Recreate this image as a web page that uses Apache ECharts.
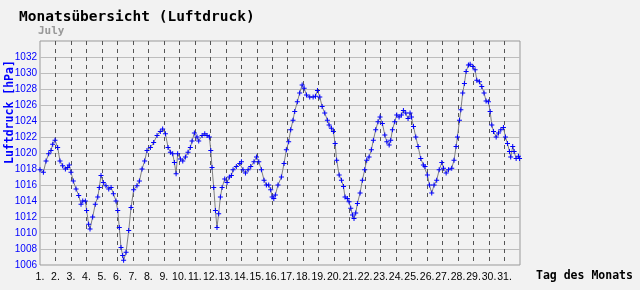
<!DOCTYPE html>
<html>
<head>
<meta charset="utf-8">
<script src="https://cdn.jsdelivr.net/npm/echarts@6/dist/echarts.min.js"></script>
<style>
html,body{margin:0;padding:0;background:#f2f2f2;}
#chart{width:640px;height:290px;}
</style>
</head>
<body>
<div id="chart"></div>
<script>
// Time of each reading, in days since 1 July 00:00
const dayOffsets = [
0.00,0.22,0.39,0.56,0.71,0.82,0.97,1.14,1.29,1.46,1.64,1.79,1.89,2.00,2.15,2.33,2.50,2.65,2.76,2.93,
3.01,3.14,3.23,3.40,3.57,3.73,3.83,3.94,4.09,4.26,4.44,4.59,4.74,4.91,5.02,5.12,5.23,5.34,5.40,5.56,
5.73,5.88,6.05,6.26,6.42,6.59,6.76,6.91,7.13,7.34,7.56,7.77,7.92,8.10,8.27,8.42,8.57,8.68,8.79,8.89,
9.07,9.22,9.39,9.56,9.71,9.82,9.97,10.14,10.25,10.47,10.64,10.79,10.94,11.03,11.11,11.22,11.33,11.43,11.54,11.65,
11.76,11.93,12.08,12.23,12.36,12.47,12.68,12.90,13.01,13.11,13.27,13.44,13.61,13.82,13.98,14.13,14.30,14.47,14.62,14.77,
14.90,14.99,15.10,15.20,15.37,15.59,15.76,15.91,16.06,16.19,16.34,16.45,16.62,16.77,16.93,17.06,17.21,17.42,17.64,17.79,
17.92,18.07,18.22,18.39,18.56,18.67,18.82,18.95,19.06,19.16,19.32,19.47,19.60,19.70,19.85,19.96,20.07,20.18,20.28,20.39,
20.50,20.67,20.82,20.97,21.10,21.25,21.40,21.53,21.68,21.83,21.96,22.11,22.27,22.40,22.55,22.65,22.76,22.91,23.04,23.19,
23.34,23.47,23.62,23.77,23.90,23.99,24.12,24.27,24.42,24.59,24.76,24.87,25.02,25.15,25.30,25.45,25.62,25.78,25.95,26.06,
26.23,26.38,26.59,26.74,26.87,26.96,27.09,27.18,27.30,27.41,27.52,27.67,27.78,27.95,28.10,28.21,28.38,28.53,28.68,28.81,
28.96,29.07,29.18,29.29,29.46,29.61,29.76,29.93,30.06,30.19,30.32,30.40,30.53,30.62,30.75,30.90,30.97
];
// Air pressure in hPa
const pressure = [
1017.9,1017.6,1019.0,1019.9,1020.3,1021.1,1021.6,1020.7,1019.0,1018.4,1018.0,1018.2,1018.5,1017.6,1016.5,1015.5,1014.7,1013.6,1014.0,1014.0,
1012.8,1011.1,1010.5,1012.0,1013.6,1014.5,1015.7,1017.2,1016.3,1015.9,1015.5,1015.7,1014.9,1014.0,1012.8,1010.7,1008.2,1007.2,1006.6,1007.6,
1010.3,1013.2,1015.4,1015.9,1016.5,1018.0,1019.0,1020.3,1020.7,1021.3,1022.2,1022.7,1023.0,1022.4,1020.7,1020.1,1019.9,1018.8,1017.4,1019.9,
1019.25,1019.0,1019.5,1020.1,1020.7,1021.5,1022.5,1022.0,1021.5,1022.2,1022.4,1022.2,1022.0,1020.3,1018.2,1015.7,1012.8,1010.7,1012.4,1014.5,
1015.7,1016.75,1016.3,1017.0,1017.2,1017.9,1018.3,1018.7,1018.9,1017.9,1017.5,1017.9,1018.3,1018.9,1019.5,1018.9,1017.9,1016.6,1016.0,1016.0,
1015.4,1014.5,1014.3,1014.75,1016.0,1017.0,1018.7,1020.4,1021.4,1022.9,1024.1,1025.2,1026.4,1027.5,1028.5,1028.1,1027.25,1027.0,1027.0,1027.1,
1027.8,1027.0,1025.8,1025.0,1024.1,1023.5,1023.1,1022.7,1021.2,1019.1,1017.25,1016.6,1015.8,1014.5,1014.3,1013.9,1013.1,1012.25,1011.8,1012.5,
1013.7,1015.0,1016.6,1017.9,1019.1,1019.5,1020.4,1021.6,1022.9,1023.9,1024.5,1023.7,1022.25,1021.4,1021.0,1021.6,1022.9,1023.9,1024.75,1024.5,
1024.75,1025.3,1025.0,1024.3,1025.0,1024.5,1023.3,1022.0,1020.8,1019.3,1018.5,1018.3,1017.25,1016.0,1015.0,1016.0,1016.6,1017.9,1018.8,1018.1,
1017.5,1017.9,1018.1,1019.1,1020.8,1022.0,1024.1,1025.4,1027.5,1028.7,1030.2,1031.0,1031.1,1030.8,1030.4,1029.1,1028.9,1028.3,1027.5,1026.5,
1026.4,1025.2,1023.5,1022.7,1022.0,1022.5,1022.9,1023.2,1022.0,1021.2,1020.2,1019.5,1020.8,1020.2,1019.3,1019.6,1019.3
];
// Tick labels of the day axis
const dayLabels = ['1.','2.','3.','4.','5.','6.','7.','8.','9.','10.','11.','12.','13.','14.','15.','16.',
'17.','18.','19.','20.','21.','22.','23.','24.','25.','26.','27.','28.','29.','30.','31.'];
// Tick labels of the pressure axis
const pressureTicks = [1006,1008,1010,1012,1014,1016,1018,1020,1022,1024,1026,1028,1030,1032];

const titleText = 'Monatsübersicht (Luftdruck)';
const monthText = 'July';
const yName = 'Luftdruck [hPa]';
const xName = 'Tag des Monats';

const seriesData = dayOffsets.map((d, i) => [d, pressure[i]]);

const chart = echarts.init(document.getElementById('chart'), null, {renderer: 'canvas'});
const mono = '"DejaVu Sans Mono", monospace';
chart.setOption({
  animation: false,
  backgroundColor: '#f2f2f2',
  grid: {left: 40, right: 120, top: 41, bottom: 25, show: true, borderColor: '#999', borderWidth: 1, backgroundColor: 'transparent'},
  xAxis: {
    type: 'value', min: 0, max: 31, interval: 1,
    axisLine: {show: false},
    axisTick: {show: false},
    axisLabel: {
      color: '#000', fontFamily: 'Liberation Sans', fontSize: 10.5, margin: 7,
      formatter: v => (v < dayLabels.length ? dayLabels[v] : '')
    },
    splitLine: {show: true, showMinLine: false, showMaxLine: false, lineStyle: {color: '#555', type: [4, 4], width: 1}}
  },
  yAxis: {
    type: 'value', min: 1006, max: 1034, interval: 2,
    axisLine: {show: false},
    axisTick: {show: false},
    axisLabel: {
      color: '#0000ff', fontFamily: 'Liberation Sans', fontSize: 10, margin: 3,
      formatter: v => (pressureTicks.indexOf(v) >= 0 ? String(v) : '')
    },
    splitLine: {show: true, showMinLine: false, showMaxLine: false, lineStyle: {color: '#bdbdbd', width: 1}}
  },
  graphic: [
    {type: 'text', left: 19, top: 10, style: {text: titleText, font: 'bold 14.5px ' + mono, fill: '#000'}},
    {type: 'text', left: 38, top: 26, style: {text: monthText, font: 'bold 11px ' + mono, fill: '#999'}},
    {type: 'text', x: 4, y: 164, rotation: Math.PI / 2, style: {text: yName, font: 'bold 11.5px ' + mono, fill: '#0000ff', textVerticalAlign: 'top'}},
    {type: 'text', left: 536, top: 270, style: {text: xName, font: 'bold 11.5px ' + mono, fill: '#000'}}
  ],
  series: [{
    type: 'line',
    z: 5,
    data: seriesData,
    showSymbol: true,
    symbol: 'path://M2,0H3V2H5V3H3V5H2V3H0V2H2Z',
    symbolSize: 5,
    itemStyle: {color: '#0000ff'},
    lineStyle: {color: '#808080', width: 1},
    emphasis: {disabled: true}
  }]
});
</script>
</body>
</html>
